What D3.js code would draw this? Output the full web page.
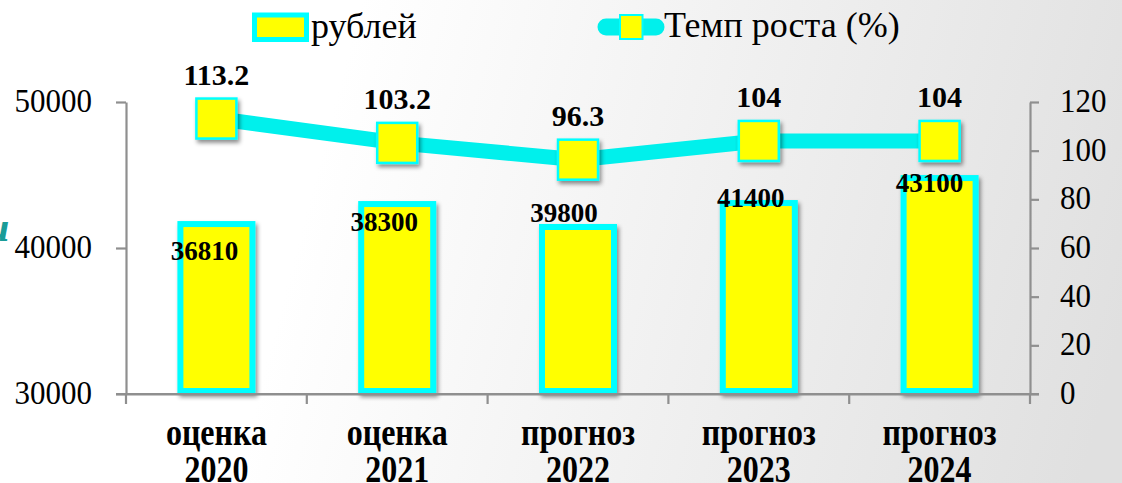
<!DOCTYPE html>
<html>
<head>
<meta charset="utf-8">
<script src="https://cdn.jsdelivr.net/npm/d3@7"></script>
<style>
  html, body { margin: 0; padding: 0; background: #fff; }
  svg { display: block; }
</style>
</head>
<body>
<svg id="chart" width="1122" height="483"></svg>
<script>
// ---- data ----
const categoriesTop = ["оценка", "оценка", "прогноз", "прогноз", "прогноз"];
const categoriesYear = ["2020", "2021", "2022", "2023", "2024"];
const barHeights = [41640, 43010, 41440, 43080, 44790];   // bar heights as drawn (left axis)
const barLabels = ["36810", "38300", "39800", "41400", "43100"]; // printed labels (рублей)
const growthRate = [113.2, 103.2, 96.3, 104, 104];          // Темп роста (%), right axis
const growthLabels = ["113.2", "103.2", "96.3", "104", "104"];
const leftTicks = [30000, 40000, 50000];
const rightTicks = [0, 20, 40, 60, 80, 100, 120];
const seriesNames = ["рублей", "Темп роста (%)"];

// ---- layout ----
const W = 1122, H = 483;
const plot = { left: 126, right: 1030, top: 102, bottom: 394 };
const barLabelNudge = [36, 27, -5, 4, 14];
const barLabelDx = [-12, -13, -14, -8, -10];
const FONT = "Liberation Serif";

const svg = d3.select("#chart");
const defs = svg.append("defs");

const grad = defs.append("linearGradient").attr("id", "bg")
  .attr("gradientUnits", "userSpaceOnUse")
  .attr("x1", 330).attr("y1", 120).attr("x2", 1122).attr("y2", 330);
grad.append("stop").attr("offset", 0).attr("stop-color", "#ffffff");
grad.append("stop").attr("offset", 1).attr("stop-color", "#e0e0e0");

const sh = defs.append("filter").attr("id", "shadow")
  .attr("x", "-20%").attr("y", "-20%").attr("width", "150%").attr("height", "150%");
sh.append("feDropShadow").attr("dx", 2).attr("dy", 3).attr("stdDeviation", 2)
  .attr("flood-color", "#000").attr("flood-opacity", 0.45);

svg.append("rect").attr("width", W).attr("height", H).attr("fill", "url(#bg)");

// decorative teal fragment at the left edge
svg.append("text").attr("x", -14).attr("y", 241)
  .attr("font-size", 42).attr("font-style", "italic").attr("font-weight", "bold")
  .style("font-family", FONT)
  .attr("fill", "#1a9c98").text("и");

const x = d3.scaleBand().domain(categoriesYear).range([plot.left, plot.right]).paddingInner(0).paddingOuter(0);
const yL = d3.scaleLinear().domain([30000, 50000]).range([plot.bottom, plot.top]);
const yR = d3.scaleLinear().domain([0, 120]).range([plot.bottom, plot.top]);
const cx = d => x(d) + x.bandwidth() / 2;

const axisColor = "#8f8f8f";

// bars
const barW = 72;
svg.append("g").selectAll("rect").data(barHeights).join("rect")
  .attr("x", (d, i) => cx(categoriesYear[i]) - barW / 2)
  .attr("y", d => yL(d))
  .attr("width", barW)
  .attr("height", d => yL(30000) - yL(d) - 3)
  .attr("fill", "#ffff00")
  .attr("stroke", "#00ffff")
  .attr("stroke-width", 6)
  .attr("filter", "url(#shadow)");

// axes
const gL = svg.append("g").attr("transform", `translate(${plot.left},0)`)
  .call(d3.axisLeft(yL).tickValues(leftTicks).tickSize(10).tickSizeOuter(0).tickFormat(d3.format("d")));
const gR = svg.append("g").attr("transform", `translate(${plot.right},0)`)
  .call(d3.axisRight(yR).tickValues(rightTicks).tickSize(9).tickSizeOuter(0).tickFormat(d3.format("d")));
const gX = svg.append("g").attr("transform", `translate(0,${plot.bottom})`)
  .call(d3.axisBottom(x).tickValues([]).tickSizeOuter(0));
[gL, gR, gX].forEach(g => {
  g.select(".domain").attr("stroke", axisColor).attr("stroke-width", 2.2);
  g.selectAll(".tick line").attr("stroke", axisColor).attr("stroke-width", 2.2);
  g.selectAll(".tick text").remove();
});
svg.append("line").attr("x1", plot.left - 10).attr("x2", plot.right + 9)
  .attr("y1", plot.bottom).attr("y2", plot.bottom)
  .attr("stroke", axisColor).attr("stroke-width", 2.2);
const bounds = categoriesYear.map(c => x(c)).concat([plot.right]);
svg.append("g").selectAll("line").data(bounds).join("line")
  .attr("x1", d => d).attr("x2", d => d)
  .attr("y1", plot.bottom).attr("y2", plot.bottom + 10)
  .attr("stroke", axisColor).attr("stroke-width", 2.2);

function stext(parent, tx, ty, sy, str) {
  return parent.append("text")
    .attr("transform", `translate(${tx},${ty}) scale(1,${sy})`)
    .style("font-family", FONT)
    .text(str);
}
const tl = svg.append("g").attr("font-size", 31).attr("fill", "#000");
leftTicks.forEach(v => {
  stext(tl, 92, yL(v) + 10, 1.12, d3.format("d")(v)).attr("text-anchor", "end");
});
rightTicks.forEach(v => {
  stext(tl, 1060, yR(v) + 10, 1.12, d3.format("d")(v)).attr("text-anchor", "start");
});

// category labels
const xl = svg.append("g").attr("font-size", 32).attr("font-weight", "bold").attr("fill", "#000")
  .attr("text-anchor", "middle");
categoriesYear.forEach((c, i) => {
  stext(xl, cx(c), 445, 1.16, categoriesTop[i]);
  stext(xl, cx(c), 482, 1.16, categoriesYear[i]);
});

// bar labels
const bl = svg.append("g").attr("font-size", 27).attr("font-weight", "bold").attr("fill", "#000")
  .attr("text-anchor", "middle");
barHeights.forEach((v, i) => {
  bl.append("text")
    .attr("x", cx(categoriesYear[i]) + barLabelDx[i])
    .attr("y", yL(v) + barLabelNudge[i])
    .style("font-family", FONT)
    .text(barLabels[i]);
});

// growth line
const line = d3.line().x((d, i) => cx(categoriesYear[i])).y(d => yR(d));
svg.append("path").datum(growthRate)
  .attr("d", line).attr("fill", "none")
  .attr("stroke", "#00f0ec").attr("stroke-width", 15).attr("stroke-linejoin", "round");

const mk = 40;
svg.append("g").selectAll("rect").data(growthRate).join("rect")
  .attr("x", (d, i) => cx(categoriesYear[i]) - mk / 2)
  .attr("y", d => yR(d) - mk / 2)
  .attr("width", mk).attr("height", mk)
  .attr("fill", "#ffff00").attr("stroke", "#00ffff").attr("stroke-width", 2.5)
  .attr("filter", "url(#shadow)");

const gl = svg.append("g").attr("font-size", 30).attr("font-weight", "bold").attr("fill", "#000")
  .attr("text-anchor", "middle");
growthRate.forEach((v, i) => {
  gl.append("text").attr("x", cx(categoriesYear[i])).attr("y", yR(v) - 34)
    .style("font-family", FONT).text(growthLabels[i]);
});

// legend
const lg = svg.append("g");
lg.append("rect").attr("x", 254.5).attr("y", 15).attr("width", 52).attr("height", 24.5)
  .attr("fill", "#ffff00").attr("stroke", "#00ffff").attr("stroke-width", 5);
lg.append("text").attr("x", 311).attr("y", 37.5).attr("font-size", 36).attr("fill", "#000")
  .style("font-family", FONT).text(seriesNames[0]);
lg.append("line").attr("x1", 606).attr("x2", 656).attr("y1", 27).attr("y2", 27)
  .attr("stroke", "#00f0ec").attr("stroke-width", 17).attr("stroke-linecap", "round");
lg.append("rect").attr("x", 620).attr("y", 15).attr("width", 22.5).attr("height", 24)
  .attr("fill", "#ffff00").attr("stroke", "#00ffff").attr("stroke-width", 2);
lg.append("text").attr("x", 664).attr("y", 37).attr("font-size", 36).attr("fill", "#000")
  .style("font-family", FONT).text(seriesNames[1]);
</script>
</body>
</html>
